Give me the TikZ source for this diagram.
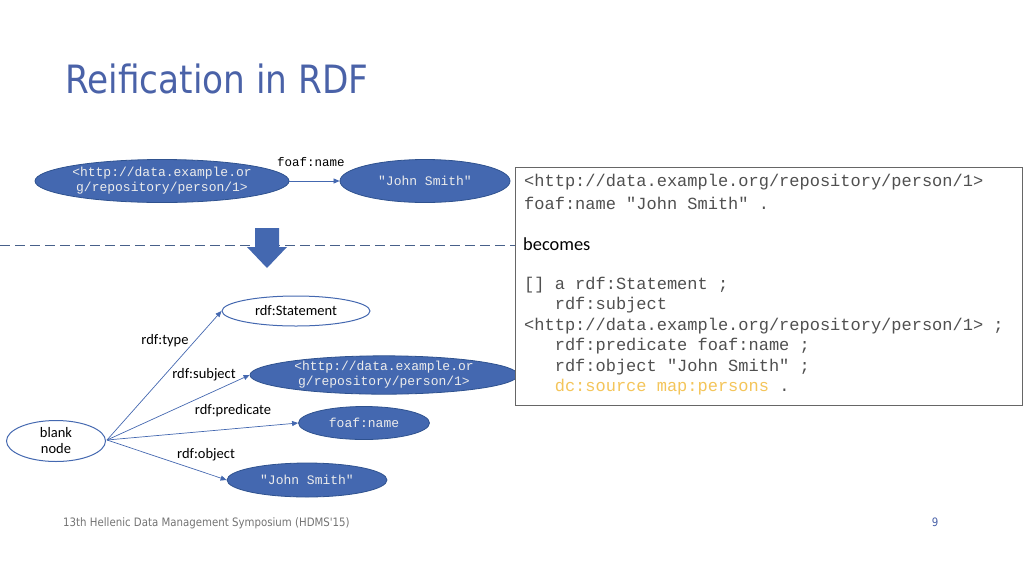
\documentclass[tikz,border=0pt]{standalone}
\usepackage{fontspec}
\setmainfont{Carlito}
\setmonofont{Liberation Mono}
\newfontfamily\titlefont[FakeStretch=0.88]{DejaVu Sans}
\usetikzlibrary{shapes.geometric,arrows.meta}
\definecolor{nodeblue}{HTML}{4468B0}
\definecolor{edgeblue}{HTML}{2F528F}
\definecolor{titleblue}{HTML}{4A62A8}
\definecolor{codegray}{HTML}{505050}
\definecolor{srcyellow}{HTML}{F4C55A}
\tikzset{
  filled/.style={ellipse, draw=edgeblue, fill=nodeblue, line width=0.8pt, text=white!85!gray, font=\ttfamily\fontsize{13}{15}\selectfont, inner sep=0pt, align=center},
  hollow/.style={ellipse, draw=nodeblue, fill=white, line width=1pt, font=\fontsize{14.5}{16}\selectfont, inner sep=0pt, align=center},
  edge/.style={draw=nodeblue, line width=0.7pt, -{Triangle[length=6pt,width=5pt]}},
  elabel/.style={font=\fontsize{14.5}{14.5}\selectfont, inner sep=0pt},
  code/.style={font=\ttfamily\fontsize{17}{20.5}\selectfont, text=codegray, inner sep=0pt, anchor=west}
}
\begin{document}
\begin{tikzpicture}[x=1pt,y=-1pt]
\useasboundingbox (0,0) rectangle (1024,576);
% title
\node[anchor=west, text=titleblue, font=\titlefont\fontsize{39}{39}\selectfont, inner sep=0pt] (title) at (65,79) {Reification in RDF};
% top triple
\node[filled, minimum width=254pt, minimum height=43pt] (s1) at (162,181) {<http://data.example.or\\g/repository/person/1>};
\node[filled, minimum width=170pt, minimum height=43pt] (o1) at (425,181) {"John Smith"};
\draw[edge] (s1) -- (o1);
\node[font=\ttfamily\fontsize{12.5}{12.5}\selectfont, inner sep=0pt] (p1) at (311,162) {foaf:name};
% dashed separator
\coordinate (dl) at (0,245);
\coordinate (dr) at (515,245);
\draw[draw=edgeblue!70!gray, line width=0.9pt, dash pattern=on 10pt off 5pt] (dl) -- (dr);
% block arrow
\fill[nodeblue] (255,228) -- (279,228) -- (279,247) -- (287,247) -- (267,268) -- (247,247) -- (255,247) -- cycle;
% bottom graph
\node[hollow, minimum width=148pt, minimum height=30pt] (st) at (296,311) {rdf:Statement};
\node[filled, minimum width=268pt, minimum height=30pt] (s2) at (384,375) {<http://data.example.or\\g/repository/person/1>};
\node[filled, minimum width=131pt, minimum height=33pt] (p2) at (364,423) {foaf:name};
\node[filled, minimum width=160pt, minimum height=34pt] (o2) at (307,480) {"John Smith"};
\node[hollow, minimum width=99pt, minimum height=41pt] (bn) at (56,441) {blank\\node};
\coordinate (bnr) at (107,440);
\draw[edge] (bnr) -- (st.west);
\draw[edge] (bnr) -- (s2.west);
\draw[edge] (bnr) -- (p2.west);
\draw[edge] (bnr) -- (o2.west);
\node[elabel] (lt) at (165,341) {rdf:type};
\node[elabel] (ls) at (204,375) {rdf:subject};
\node[elabel] (lp) at (233,411) {rdf:predicate};
\node[elabel] (lo) at (206,455) {rdf:object};
% code box
\node[draw=gray!80!black, fill=white, line width=0.8pt, minimum width=507pt, minimum height=238pt, inner sep=0pt, anchor=north west] (box) at (515,167) {};
\node[code] (c1) at (524,182) {<http://data.example.org/repository/person/1>};
\node[code] (c2) at (524,203) {foaf:name "John Smith" .};
\node[anchor=west, inner sep=0pt, font=\fontsize{18.4}{18.4}\selectfont] (c3) at (523,244) {becomes};
\node[code] (c4) at (524,285) {[] a rdf:Statement ;};
\node[code] (c5) at (524,305) {\ \ \ rdf:subject};
\node[code] (c6) at (524,326) {<http://data.example.org/repository/person/1> ;};
\node[code] (c7) at (524,346) {\ \ \ rdf:predicate foaf:name ;};
\node[code] (c8) at (524,367) {\ \ \ rdf:object "John Smith" ;};
\node[code] (c9) at (524,387) {\ \ \ \textcolor{srcyellow}{dc:source map:persons} .};
% footer
\node[anchor=west, inner sep=0pt, text=gray!90!black, font=\titlefont\fontsize{11.6}{11.6}\selectfont] (foot) at (63,523) {13th Hellenic Data Management Symposium (HDMS'15)};
\node[inner sep=0pt, text=titleblue, font=\titlefont\fontsize{11.6}{11.6}\selectfont] (pg) at (935,522) {9};
\end{tikzpicture}
\end{document}
